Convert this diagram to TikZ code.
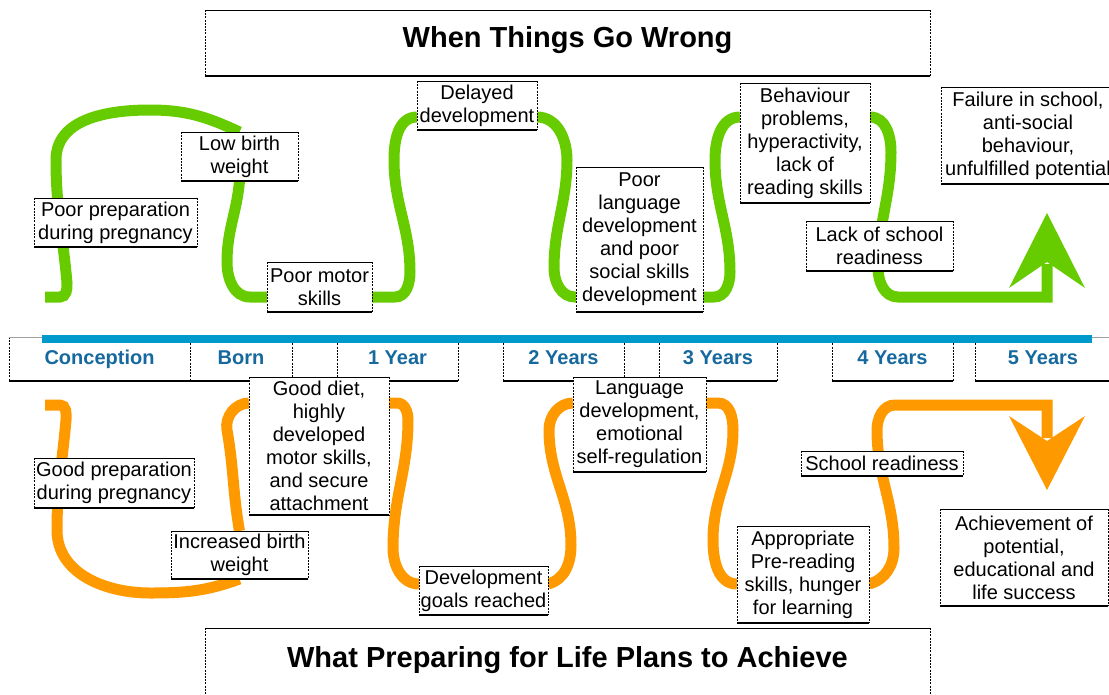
\documentclass[tikz,border=0pt]{standalone}
\usepackage{fontspec}
\setmainfont{Liberation Sans}
\usetikzlibrary{backgrounds}
\definecolor{grn}{HTML}{66CC00}
\definecolor{org}{HTML}{FF9900}
\definecolor{barblue}{HTML}{0099CC}
\definecolor{lblblue}{HTML}{16699E}
\definecolor{topgrey}{HTML}{A0A0A0}
\newcommand{\bxfont}{\fontsize{20}{23}\selectfont}
\newcommand{\ttlfont}{\fontsize{29}{34}\selectfont\bfseries}
\newcommand{\tlfont}{\fontsize{20}{23}\selectfont\bfseries}
\tikzset{
  sideedge/.style={line width=1pt, dash pattern=on 2pt off 1.2pt},
  topedge/.style={line width=0.9pt},
  botedge/.style={line width=2.2pt},
  boxedges/.style={append after command={
      (\tikzlastnode.north west) edge[sideedge] (\tikzlastnode.south west)
      (\tikzlastnode.north east) edge[sideedge] (\tikzlastnode.south east)
      (\tikzlastnode.north west) edge[topedge, #1] (\tikzlastnode.north east)
      (\tikzlastnode.south west) edge[botedge] (\tikzlastnode.south east)}},
  bx/.style 2 args={fill=white, inner sep=0pt, outer sep=0pt, align=center,
      font=\bxfont, text=black, minimum width=#1pt, minimum height=#2pt, boxedges=black},
  tl/.style={fill=white, inner sep=0pt, outer sep=0pt, font=\tlfont, text=lblblue,
      minimum height=44pt, minimum width=#1pt, text height=15pt, text depth=4pt, boxedges=topgrey},
  ttl/.style 2 args={fill=white, inner sep=0pt, outer sep=0pt, font=\ttlfont, text=black,
      minimum width=#1pt, minimum height=#2pt, boxedges=black},
  gline/.style={draw=grn, line width=11pt},
  oline/.style={draw=org, line width=11pt},
}
\begin{document}
\begin{tikzpicture}[x=1pt,y=-1pt]
\useasboundingbox (0,0) rectangle (1109,694);
\clip (0,0) rectangle (1109,694);

% level coordinates
\coordinate (glev) at (0,297);
\coordinate (ghi) at (0,117);
\coordinate (olev) at (0,405);
\coordinate (ohi) at (0,403);
\coordinate (olo) at (0,584);
\coordinate (gstart) at (45,297);
\coordinate (ostart) at (45,405);
\coordinate (garrow) at (1047,264);
\coordinate (oarrow) at (1047,438);
\coordinate (gtip) at (1047,213);
\coordinate (otip) at (1047,490);

% titles
\node[ttl={725}{66}, text height=21pt, text depth=12pt] (toptitle) at (567.5,43) {When Things Go Wrong};
\node[ttl={725}{92}, text height=21pt, text depth=35pt] (bottitle) at (567.5,674) {What Preparing for Life Plans to Achieve};

% timeline
\node[tl=181] (conc) at (99.5,359) {Conception};
\node[tl=102] (born) at (241,359) {Born};
\node[tl=45] (gapa) at (314.5,359) {};
\node[tl=121] (y1) at (397.5,359) {1 Year};
\node[tl=121] (y2) at (563.5,359) {2 Years};
\node[tl=35] (gapb) at (641.5,359) {};
\node[tl=118] (y3) at (718,359) {3 Years};
\node[tl=121] (y4) at (892.5,359) {4 Years};
\node[tl=136] (y5) at (1043,359) {5 Years};
\fill[barblue] (42,335) rectangle (1092,343);

% top boxes
\node[bx={163}{49}] (ppd) at (115.5,222.5) {Poor preparation\\during pregnancy};
\node[bx={117}{49}] (lbw) at (239.5,156.5) {Low birth\\weight};
\node[bx={105}{50}] (pms) at (319.5,287) {Poor motor\\skills};
\node[bx={120}{49}] (dd) at (477,105.5) {Delayed\\development};
\node[bx={127}{145}] (pld) at (639.5,239.5) {Poor\\language\\development\\and poor\\social skills\\development};
\node[bx={130}{120}] (bp) at (805,143) {Behaviour\\problems,\\hyperactivity,\\lack of\\reading skills};
\node[bx={147}{50}] (lsr) at (879.5,246) {Lack of school\\readiness};
\node[bx={174}{97}] (fis) at (1028,135.5) {Failure in school,\\anti-social\\behaviour,\\unfulfilled potential};

% bottom boxes
\node[bx={160}{50}] (gpd) at (114,483) {Good preparation\\during pregnancy};
\node[bx={137}{48}] (ibw) at (239.5,555) {Increased birth\\weight};
\node[bx={140}{138}] (gd) at (319,446) {Good diet,\\highly\\developed\\motor skills,\\and secure\\attachment};
\node[bx={129}{49}] (dgr) at (483.5,590.5) {Development\\goals reached};
\node[bx={133}{95}] (ld) at (639.5,424.5) {Language\\development,\\emotional\\self-regulation};
\node[bx={132}{97}] (apr) at (803,574.5) {Appropriate\\Pre-reading\\skills, hunger\\for learning};
\node[bx={162}{25}] (sr) at (882,463.5) {School readiness};
\node[bx={168}{97}] (ach) at (1024,557.5) {Achievement of\\potential,\\educational and\\life success};

% arrowheads
\fill[grn] (1009,288) -- (gtip) -- (1085,288) -- (1047,262) -- cycle;
\fill[org] (1009,416) -- (otip) -- (1085,416) -- (1047,441) -- cycle;

\begin{scope}[on background layer]
% green path
\draw[gline] (gstart) -- (60,297) to[out=0,in=-85] (67,283) to[out=95,in=-90] (56,160)
  to[out=90,in=180] (150,110) to[out=0,in=155] (lbw.north);
\draw[gline] (lbw.south) to[out=-95,in=90] (227,262) to[out=-90,in=180] (250,297) -- (pms.west |- glev);
\draw[gline] (pms.east |- glev) -- (395,297) to[out=0,in=-90] (410,272) to[out=90,in=-90] (394,160)
  to[out=90,in=180] (dd.west |- ghi);
\draw[gline] (dd.east |- ghi) to[out=0,in=90] (567,160) to[out=-90,in=90] (554,268)
  to[out=-90,in=180] (575,297) -- (pld.west |- glev);
\draw[gline] (pld.east |- glev) -- (714,297) to[out=0,in=-90] (730,272) to[out=90,in=-90] (715,160)
  to[out=90,in=180] (bp.west |- ghi);
\draw[gline] (bp.east |- ghi) to[out=0,in=90] (891,152) to[out=-90,in=90] (878,268)
  to[out=-90,in=180] (898,297) -- (1047,297) -- (garrow);
% orange path
\draw[oline] (ostart) -- (60,405) to[out=0,in=85] (66,420) to[out=-95,in=90] (57,530)
  to[out=-90,in=180] (150,593) to[out=0,in=-160] (ibw.south);
\draw[oline] (ibw.north) to[out=100,in=-80] (227,430) to[out=100,in=180] (gd.west |- ohi);
\draw[oline] (gd.east |- ohi) -- (397,403) to[out=0,in=90] (408,420) to[out=-90,in=90] (393,548)
  to[out=-90,in=180] (dgr.west |- olo);
\draw[oline] (dgr.east |- olo) to[out=15,in=-90] (571,545) to[out=90,in=-90] (549,430)
  to[out=90,in=180] (ld.west |- ohi);
\draw[oline] (ld.east |- ohi) -- (718,403) to[out=0,in=90] (733,430) to[out=-90,in=90] (713,540)
  to[out=-90,in=180] (apr.west |- olo);
\draw[oline] (apr.east |- olo) to[out=15,in=-90] (894,548) to[out=90,in=-90] (877,430)
  to[out=90,in=180] (895,405) -- (1047,405) -- (oarrow);
\end{scope}
\end{tikzpicture}
\end{document}
